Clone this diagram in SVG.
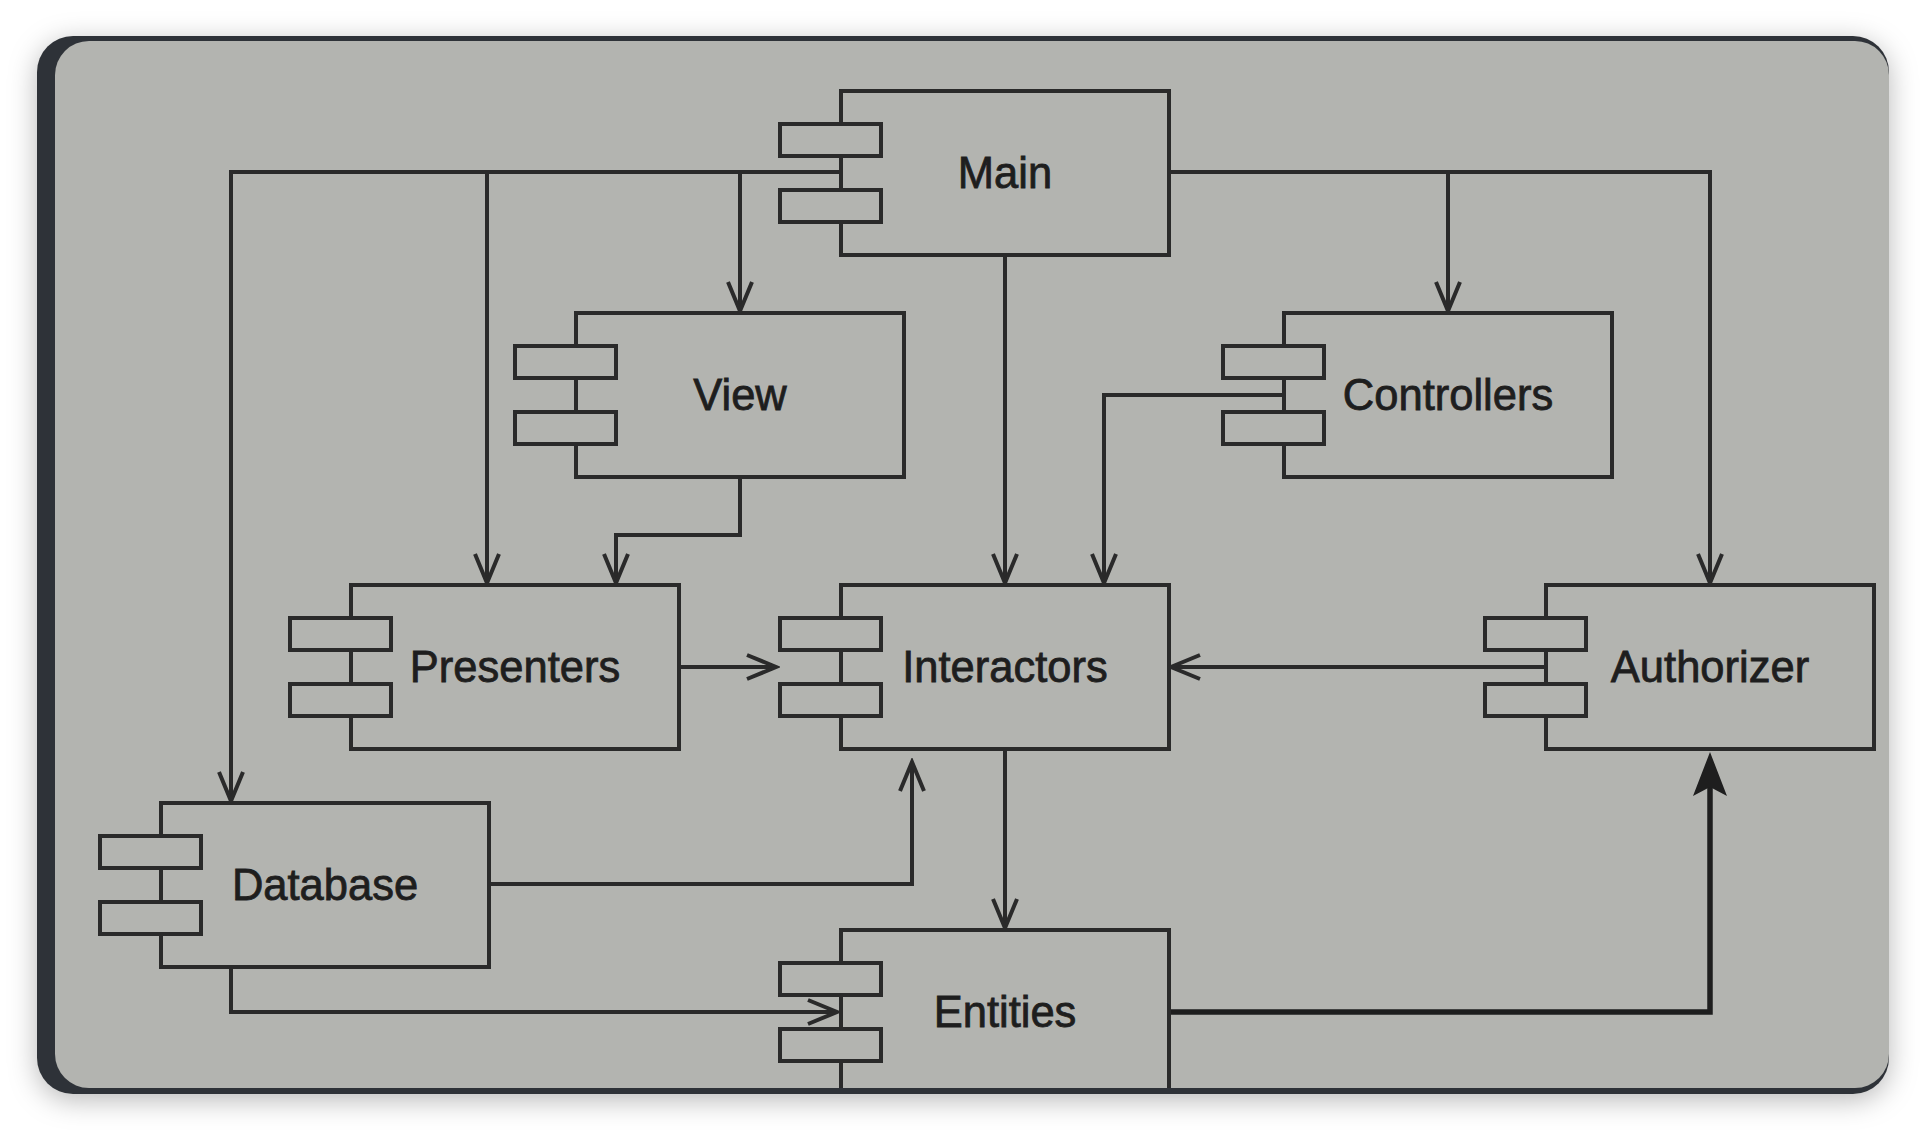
<svg xmlns="http://www.w3.org/2000/svg" width="1924" height="1130" viewBox="0 0 1924 1130">
  <defs>
    <filter id="shadow" x="-5%" y="-8%" width="110%" height="118%">
      <feDropShadow dx="0" dy="6" stdDeviation="14" flood-color="#000" flood-opacity="0.28"/>
    </filter>
    <clipPath id="inner">
      <rect x="55" y="41" width="1834" height="1047" rx="34"/>
    </clipPath>
    <marker id="open" viewBox="-32 -15 36 30" refX="0" refY="0" markerWidth="36" markerHeight="30" markerUnits="userSpaceOnUse" orient="auto">
      <path d="M-29,-12 L0,0 L-29,12" fill="none" stroke="#2a2a2a" stroke-width="4"/>
    </marker>
    <marker id="filled" viewBox="-40 -20 54 40" refX="0" refY="0" markerWidth="54" markerHeight="40" markerUnits="userSpaceOnUse" orient="auto">
      <path d="M10,0 L-34,-17 L-25,0 L-34,17 Z" fill="#1e1e1e"/>
    </marker>
  </defs>
  <style>
    .box { fill: #b3b4b0; stroke: #2a2a2a; stroke-width: 4; }
    .port { fill: #b3b4b0; stroke: #2a2a2a; stroke-width: 4; }
    .label { font-family: "Liberation Sans", Arial, sans-serif; font-size: 43.5px; fill: #1e1e1e; stroke: #1e1e1e; stroke-width: 0.8; text-anchor: middle; }
    .conn { fill: none; stroke: #2a2a2a; stroke-width: 4; marker-end: url(#open); }
    .thick { fill: none; stroke: #1e1e1e; stroke-width: 5.5; marker-end: url(#filled); }
  </style>
  <rect x="0" y="0" width="1924" height="1130" fill="#ffffff"/>
  <g id="frame">
    <rect x="37" y="36" width="1852" height="1058" rx="36" fill="#2f3338" filter="url(#shadow)"/>
    <rect x="55" y="41" width="1834" height="1047" rx="34" fill="#b3b4b0"/>
  </g>
  <g clip-path="url(#inner)">
    <g id="connectors">
      <path class="conn" d="M841,172 H231 V801"/>
      <path class="conn" d="M487,172 V583"/>
      <path class="conn" d="M740,172 V311"/>
      <path class="conn" d="M1169,172 H1710 V583"/>
      <path class="conn" d="M1448,172 V311"/>
      <path class="conn" d="M1005,255 V583"/>
      <path class="conn" d="M740,477 V535 H616 V583"/>
      <path class="conn" d="M1284,395 H1104 V583"/>
      <path class="conn" d="M681,667 H776"/>
      <path class="conn" d="M1546,667 H1171"/>
      <path class="conn" d="M491,884 H912 V762"/>
      <path class="conn" d="M231,967 V1012 H837"/>
      <path class="conn" d="M1005,749 V928"/>
      <path class="thick" d="M1169,1012 H1710 V762"/>
    </g>
    <g id="main">
      <rect class="box" x="841" y="91" width="328" height="164"/>
      <rect class="port" x="780" y="124" width="101" height="32"/>
      <rect class="port" x="780" y="190" width="101" height="32"/>
      <text class="label" x="1005" y="188">Main</text>
    </g>
    <g id="view">
      <rect class="box" x="576" y="313" width="328" height="164"/>
      <rect class="port" x="515" y="346" width="101" height="32"/>
      <rect class="port" x="515" y="412" width="101" height="32"/>
      <text class="label" x="740" y="410">View</text>
    </g>
    <g id="controllers">
      <rect class="box" x="1284" y="313" width="328" height="164"/>
      <rect class="port" x="1223" y="346" width="101" height="32"/>
      <rect class="port" x="1223" y="412" width="101" height="32"/>
      <text class="label" x="1448" y="410">Controllers</text>
    </g>
    <g id="presenters">
      <rect class="box" x="351" y="585" width="328" height="164"/>
      <rect class="port" x="290" y="618" width="101" height="32"/>
      <rect class="port" x="290" y="684" width="101" height="32"/>
      <text class="label" x="515" y="682">Presenters</text>
    </g>
    <g id="interactors">
      <rect class="box" x="841" y="585" width="328" height="164"/>
      <rect class="port" x="780" y="618" width="101" height="32"/>
      <rect class="port" x="780" y="684" width="101" height="32"/>
      <text class="label" x="1005" y="682">Interactors</text>
    </g>
    <g id="authorizer">
      <rect class="box" x="1546" y="585" width="328" height="164"/>
      <rect class="port" x="1485" y="618" width="101" height="32"/>
      <rect class="port" x="1485" y="684" width="101" height="32"/>
      <text class="label" x="1710" y="682">Authorizer</text>
    </g>
    <g id="database">
      <rect class="box" x="161" y="803" width="328" height="164"/>
      <rect class="port" x="100" y="836" width="101" height="32"/>
      <rect class="port" x="100" y="902" width="101" height="32"/>
      <text class="label" x="325" y="900">Database</text>
    </g>
    <g id="entities">
      <path class="box" d="M841,1100 V930 H1169 V1100"/>
      <rect class="port" x="780" y="963" width="101" height="32"/>
      <rect class="port" x="780" y="1029" width="101" height="32"/>
      <text class="label" x="1005" y="1027">Entities</text>
    </g>
  </g>
</svg>
